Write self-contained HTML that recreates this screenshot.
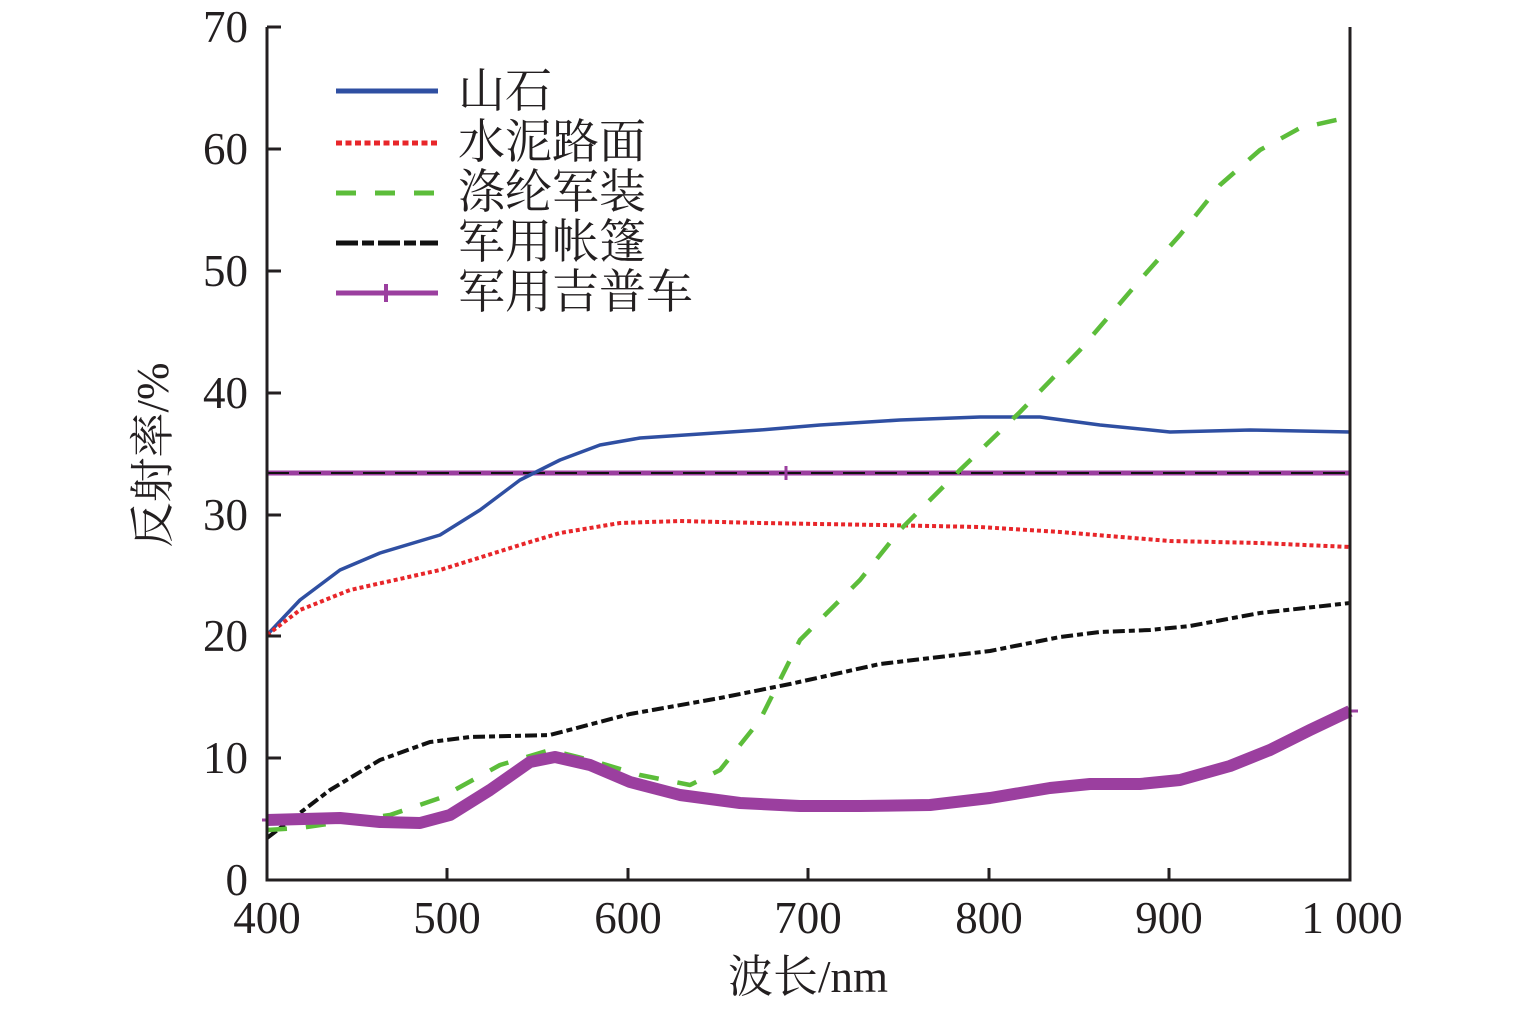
<!DOCTYPE html>
<html><head><meta charset="utf-8"><style>
body{margin:0;background:#fff}
svg text{font-family:"Liberation Serif","Noto Serif CJK SC",serif;fill:#231f20}
</style></head><body>
<svg width="1535" height="1006" viewBox="0 0 1535 1006" xmlns="http://www.w3.org/2000/svg">
<g fill="none" stroke-linejoin="round" stroke-linecap="butt">
<line x1="267" y1="473" x2="1350" y2="473" stroke="#9b3f9f" stroke-width="5"/>
<line x1="267" y1="473" x2="1350" y2="473" stroke="#111" stroke-width="2" stroke-dasharray="22,10"/>
<line x1="786" y1="466" x2="786" y2="480" stroke="#9b3f9f" stroke-width="3"/>
<polyline stroke="#2f4fa2" stroke-width="3.5" points="267,635 300,600 340,570 380,553 440,535 480,510 520,480 560,460 600,445 640,438 700,434 760,430 820,425 900,420 980,417 1040,417 1100,425 1170,432 1250,430 1350,432"/>
<polyline stroke="#e8262a" stroke-width="4" stroke-dasharray="4,3" points="267,635 300,610 350,590 440,570 520,545 560,533 620,523 680,521 760,523 880,525 980,527 1060,532 1170,541 1260,543 1350,547"/>
<polyline stroke="#111" stroke-width="4" stroke-dasharray="12,4,6,4" points="267,838 330,790 380,760 430,742 470,737 550,735 630,714 720,698 790,684 880,664 990,651 1060,637 1100,632 1150,630 1190,626 1260,613 1350,603"/>
<polyline stroke="#5cbd3a" stroke-width="4.5" stroke-dasharray="20,19" points="267,830 300,828 390,815 440,798 500,765 550,750 590,760 640,775 690,785 720,770 760,720 800,640 860,580 900,530 960,470 1020,412 1080,350 1140,280 1180,235 1220,185 1260,150 1300,128 1350,117"/>
<polyline stroke="#9b3f9f" stroke-width="12" points="267,820 340,818 380,822 420,823 450,815 490,790 530,762 555,757 590,765 630,782 680,795 740,803 800,806 860,806 930,805 990,798 1050,788 1090,784 1140,784 1180,780 1230,766 1270,750 1310,730 1350,711"/>
<line x1="1350" y1="711" x2="1358" y2="711" stroke="#9b3f9f" stroke-width="3"/>
<line x1="267" y1="820" x2="262" y2="820" stroke="#9b3f9f" stroke-width="3"/>
</g>
<g stroke="#231f20" stroke-width="3" fill="none">
<polyline points="267,27 267,880 1350,880 1350,27"/>
<path d="M267,27H281 M267,149H281 M267,271H281 M267,393H281 M267,515H281 M267,636H281 M267,758H281
M447,880V868 M628,880V868 M808,880V868 M989,880V868 M1169,880V868"/>
</g>
<g font-size="45" text-anchor="end">
<text x="248" y="42">70</text><text x="248" y="164">60</text><text x="248" y="286">50</text>
<text x="248" y="408">40</text><text x="248" y="530">30</text><text x="248" y="651">20</text>
<text x="248" y="773">10</text><text x="248" y="895">0</text>
</g>
<g font-size="45" text-anchor="middle">
<text x="267" y="933">400</text><text x="447" y="933">500</text><text x="628" y="933">600</text>
<text x="808" y="933">700</text><text x="989" y="933">800</text><text x="1169" y="933">900</text>
<text x="1352" y="933">1 000</text>
<text x="808" y="992">波长/nm</text>
</g>
<text font-size="45" text-anchor="middle" transform="translate(168,455) rotate(-90)">反射率/%</text>
<g fill="none">
<line x1="336" y1="91" x2="438" y2="91" stroke="#2f4fa2" stroke-width="5"/>
<line x1="336" y1="143" x2="438" y2="143" stroke="#e8262a" stroke-width="5" stroke-dasharray="6,3.5"/>
<line x1="336" y1="193" x2="438" y2="193" stroke="#5cbd3a" stroke-width="5" stroke-dasharray="20,19"/>
<line x1="336" y1="243" x2="438" y2="243" stroke="#111" stroke-width="5" stroke-dasharray="22,4,12,4"/>
<line x1="336" y1="293" x2="438" y2="293" stroke="#9b3f9f" stroke-width="5"/>
<line x1="386" y1="284" x2="386" y2="302" stroke="#9b3f9f" stroke-width="4"/>
</g>
<g font-size="47">
<text x="458" y="107">山石</text>
<text x="458" y="158">水泥路面</text>
<text x="458" y="208">涤纶军装</text>
<text x="458" y="258">军用帐篷</text>
<text x="458" y="308">军用吉普车</text>
</g>
</svg>
</body></html>
